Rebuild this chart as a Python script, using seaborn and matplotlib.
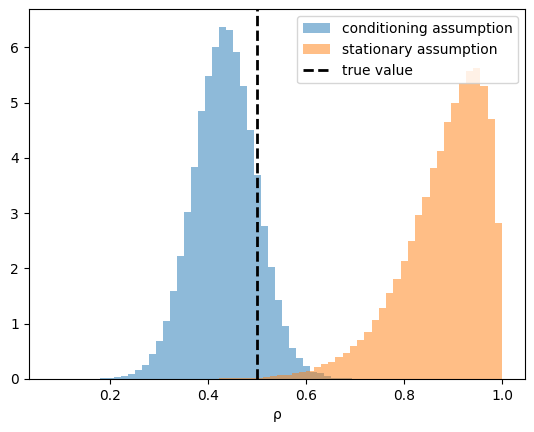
import numpy as np
import pandas as pd
import matplotlib
matplotlib.use("Agg")
import matplotlib.pyplot as plt
import seaborn as sns
from matplotlib.patches import Patch
from matplotlib.lines import Line2D

# ---- data ----
blue_bin_start = 0.1811
blue_bin_width = 0.01426
blue_heights = [0.018, 0.025, 0.036, 0.054, 0.09, 0.163, 0.26, 0.452, 0.687, 1.048,
                1.60, 2.22, 3.02, 3.84, 4.85, 5.49, 6.00, 6.37, 6.31, 5.91,
                5.30, 4.50, 3.69, 2.77, 2.02, 1.43, 0.96, 0.57, 0.385, 0.24,
                0.13, 0.10, 0.06, 0.025, 0.02, 0.015]

orange_bin_start = 0.4239
orange_bin_width = 0.014766
orange_heights = [0.012, 0.012, 0.012, 0.012, 0.015, 0.025, 0.036, 0.054, 0.078, 0.078,
                  0.108, 0.127, 0.15, 0.21, 0.27, 0.31, 0.40, 0.47, 0.60, 0.71,
                  0.85, 1.07, 1.28, 1.55, 1.81, 2.13, 2.49, 2.97, 3.30, 3.82,
                  4.13, 4.65, 4.99, 5.36, 5.57, 5.63, 5.30, 4.70, 2.82]

true_value = 0.5
labels = ["conditioning assumption", "stationary assumption", "true value"]
xlim = (0.0354, 1.0459)

blue_edges = blue_bin_start + blue_bin_width * np.arange(len(blue_heights) + 1)
orange_edges = orange_bin_start + orange_bin_width * np.arange(len(orange_heights) + 1)
blue_df = pd.DataFrame({"x": (blue_edges[:-1] + blue_edges[1:]) / 2, "w": blue_heights})
orange_df = pd.DataFrame({"x": (orange_edges[:-1] + orange_edges[1:]) / 2, "w": orange_heights})

fig = plt.figure(figsize=(5.34, 4.32), dpi=100)
ax = fig.add_axes([28.8 / 534, 53 / 432, 496 / 534, 369.6 / 432])

sns.histplot(data=blue_df, x="x", weights="w", bins=list(blue_edges), stat="count",
             color="C0", alpha=0.5, linewidth=0, ax=ax)
sns.histplot(data=orange_df, x="x", weights="w", bins=list(orange_edges), stat="count",
             color="C1", alpha=0.5, linewidth=0, ax=ax)
ax.axvline(true_value, color="k", linestyle="--", linewidth=2)

ax.set_xlim(*xlim)
ax.set_ylim(0, max(blue_heights) * 1.05)
ax.set_xlabel("ρ")
ax.set_ylabel("")

handles = [Patch(facecolor="C0", alpha=0.5), Patch(facecolor="C1", alpha=0.5),
           Line2D([0], [0], color="k", linestyle="--", linewidth=2)]
ax.legend(handles, labels, loc="upper right")

fig.savefig("out.png", dpi=100)
